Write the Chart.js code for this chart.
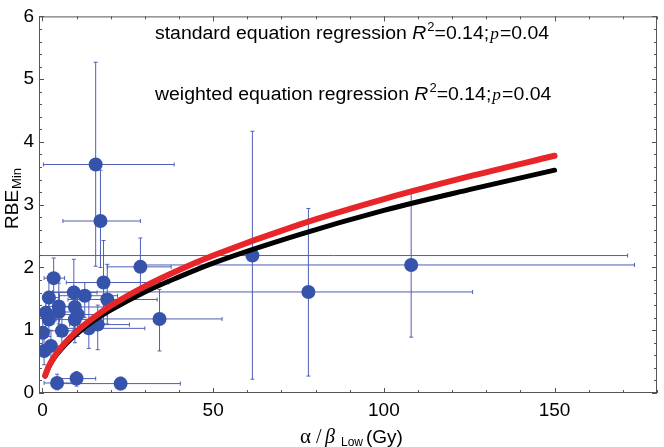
<!DOCTYPE html>
<html>
<head>
<meta charset="utf-8">
<script src="https://cdn.jsdelivr.net/npm/chart.js@4.4.0/dist/chart.umd.min.js"></script>
<style>
  html, body { margin: 0; padding: 0; background: #fff; }
</style>
</head>
<body>
<canvas id="chart" width="664" height="447"></canvas>
<script>
// measured points: alpha/beta (Gy) vs RBE_min, with error bar ends
const ptX    = [15.6, 17.0, 28.7, 61.5, 108, 77.9, 34.3, 4.3, 10.0, 22.9, 3.3, 17.9, 9.2, 12.4, 1.9, 19.0, 4.8, 9.5, 1.0, 4.8, 10.3, 1.9, 9.5, 0.1, 5.7, 13.6, 16.2, 2.5, 0.5];
const ptY    = [3.64, 2.74, 2.01, 2.19, 2.04, 1.61, 1.18, 0.16, 0.23, 0.15, 1.83, 1.76, 1.60, 1.55, 1.52, 1.49, 1.38, 1.37, 1.28, 1.29, 1.25, 1.17, 1.17, 0.96, 0.99, 1.03, 1.09, 0.75, 0.67];
const ptXLow = [0.3, 6.0, 19.0, -1, 30, 3, 16, 0.5, 4.3, 5.4, 0.5, 7, 3, 5, 0, 7.5, 1, 3, 0, 1, 4, 0, 4, 0, 2, 5, 8, 0, 0];
const ptXHigh= [38.6, 28.7, 37.7, 171.4, 173.4, 126, 52.6, 9, 15.6, 40.4, 6.5, 37, 16, 22, 5, 33.6, 9, 18, 4, 10, 19, 5, 17, 1.5, 10, 30, 25.5, 6, 2.5];
const ptYLow = [2.02, 2.0, 1.55, 0.22, 0.89, 0.27, 0.67, 0.05, 0.11, 0.05, 1.5, 1.1, 1.0, 1.2, 1.2, 1.1, 1.1, 1.0, 1.0, 0.9, 0.9, 0.9, 0.8, 0.7, 0.7, 0.71, 0.69, 0.5, 0.45];
const ptYHigh= [5.27, 3.55, 2.47, 4.17, 3.19, 2.94, 1.65, 0.3, 0.34, 0.25, 2.15, 2.43, 2.13, 1.76, 1.85, 2.05, 1.75, 1.7, 1.55, 1.6, 1.55, 1.45, 1.5, 1.2, 1.3, 1.5, 1.4, 1.0, 0.9];

// regression curves
const curveX     = [0.8, 1, 2, 4, 7, 10, 15, 20, 30, 40, 50, 75, 100, 125, 150];
const standardY  = [0.27, 0.30, 0.43, 0.60, 0.79, 0.94, 1.15, 1.32, 1.61, 1.85, 2.07, 2.52, 2.91, 3.24, 3.55];
const weightedY  = [0.28, 0.31, 0.44, 0.62, 0.82, 0.98, 1.20, 1.39, 1.70, 1.96, 2.19, 2.68, 3.09, 3.45, 3.78];

const xTicks = [0, 50, 100, 150];
const yTicks = [0, 1, 2, 3, 4, 5, 6];

const noteLines = [
    ["standard equation regression ", "0.14", "0.04"],
    ["weighted equation regression ", "0.14", "0.04"],
];

const pointColor = "#3553ab";
const barColor = "#4f5fb6";

function toXY(xs, ys) {
    return xs.map((v, i) => ({ x: v, y: ys[i] }));
}

// thin error bars with small caps, under everything else
const errorBars = {
    id: "errorBars",
    beforeDatasetsDraw(chart) {
        const { ctx, chartArea: a, scales } = chart;
        const sx = scales.x, sy = scales.y;
        ctx.save();
        ctx.beginPath();
        ctx.rect(a.left, a.top, a.right - a.left, a.bottom - a.top);
        ctx.clip();
        ctx.strokeStyle = barColor;
        ctx.lineWidth = 1;
        const cap = 2;
        for (let i = 0; i < ptX.length; i++) {
            const px = sx.getPixelForValue(ptX[i]);
            const py = sy.getPixelForValue(ptY[i]);
            const x0 = sx.getPixelForValue(ptXLow[i]);
            const x1 = sx.getPixelForValue(ptXHigh[i]);
            const y0 = sy.getPixelForValue(ptYLow[i]);
            const y1 = sy.getPixelForValue(ptYHigh[i]);
            ctx.beginPath();
            ctx.moveTo(x0, py); ctx.lineTo(x1, py);
            ctx.moveTo(x0, py - cap); ctx.lineTo(x0, py + cap);
            ctx.moveTo(x1, py - cap); ctx.lineTo(x1, py + cap);
            ctx.moveTo(px, y0); ctx.lineTo(px, y1);
            ctx.moveTo(px - cap, y0); ctx.lineTo(px + cap, y0);
            ctx.moveTo(px - cap, y1); ctx.lineTo(px + cap, y1);
            ctx.stroke();
        }
        ctx.restore();
    },
};

// draws text pieces one after another, stretched sideways by k
function drawParts(ctx, x, y, k, parts) {
    ctx.save();
    ctx.translate(x, y);
    ctx.scale(k, 1);
    let cx = 0;
    parts.forEach((p) => {
        ctx.font = p.font;
        if (p.at !== undefined) cx = p.at / k;
        ctx.fillText(p.text, cx, p.dy || 0);
        cx += ctx.measureText(p.text).width + (p.gap || 0);
    });
    ctx.restore();
}

// frame, inward ticks, annotation and axis titles
const decorations = {
    id: "decorations",
    afterDraw(chart) {
        const { ctx, chartArea: a, scales } = chart;
        const sx = scales.x, sy = scales.y;
        ctx.save();
        ctx.strokeStyle = "#555";
        ctx.lineWidth = 1;
        ctx.strokeRect(a.left + 0.5, a.top + 0.5, a.right - a.left - 1, a.bottom - a.top - 1);

        ctx.beginPath();
        for (let v = 0; v <= 180; v += 10) {
            const px = Math.round(sx.getPixelForValue(v)) + 0.5;
            const len = v % 50 === 0 ? 5 : 3;
            ctx.moveTo(px, a.bottom); ctx.lineTo(px, a.bottom - len);
            ctx.moveTo(px, a.top); ctx.lineTo(px, a.top + len);
        }
        for (let k = 0; k <= 30; k++) {
            const py = Math.round(sy.getPixelForValue(k / 5)) + 0.5;
            const len = k % 5 === 0 ? 5 : 3;
            ctx.moveTo(a.left, py); ctx.lineTo(a.left + len, py);
            ctx.moveTo(a.right, py); ctx.lineTo(a.right - len, py);
        }
        ctx.stroke();

        ctx.fillStyle = "#000";
        ctx.textBaseline = "alphabetic";
        ctx.textAlign = "left";
        const baselines = [38.5, 99.5];
        noteLines.forEach((ln, i) => {
            drawParts(ctx, 155, baselines[i], 1.08, [
                { text: ln[0], font: "18px Arial" },
                { text: "R", font: "italic 18px Arial", gap: 1 },
                { text: "2", font: "12px Arial", dy: -8 },
                { text: "=" + ln[1] + ";", font: "18px Arial", gap: 1 },
                { text: "p", font: "italic 16px 'Liberation Serif'", gap: 1 },
                { text: "=" + ln[2], font: "18px Arial" },
            ]);
        });

        // x title
        drawParts(ctx, 0, 443, 1.0, [
            { text: "α", font: "21px 'Liberation Serif'", at: 300 },
            { text: "/", font: "20px 'Liberation Serif'", at: 316 },
            { text: "β", font: "italic 20px 'Liberation Serif'", at: 325 },
            { text: "Low", font: "12px Arial", dy: 3, at: 341 },
            { text: "(Gy)", font: "19px Arial", at: 366 },
        ]);

        // y title, rotated
        ctx.translate(17.5, 229);
        ctx.rotate(-Math.PI / 2);
        drawParts(ctx, 0, 0, 1.0, [
            { text: "RBE", font: "19px Arial", gap: 1 },
            { text: "Min", font: "13px Arial", dy: 3 },
        ]);
        ctx.restore();
    },
};

new Chart(document.getElementById("chart"), {
    type: "scatter",
    data: {
        datasets: [
            {
                label: "weighted",
                type: "line",
                data: toXY(curveX, weightedY),
                borderColor: "#e8262a",
                borderWidth: 6,
                pointRadius: 0,
                cubicInterpolationMode: "monotone",
                borderCapStyle: "round",
            },
            {
                label: "standard",
                type: "line",
                data: toXY(curveX, standardY),
                borderColor: "#000000",
                borderWidth: 5,
                pointRadius: 0,
                cubicInterpolationMode: "monotone",
                borderCapStyle: "round",
            },
            {
                label: "points",
                data: toXY(ptX, ptY),
                pointRadius: 7,
                pointBackgroundColor: pointColor,
                pointBorderColor: pointColor,
                pointBorderWidth: 0,
            },
        ],
    },
    options: {
        responsive: false,
        animation: false,
        layout: { padding: { top: 6, right: 3, left: 0, bottom: 0 } },
        plugins: { legend: { display: false }, tooltip: { enabled: false } },
        scales: {
            x: {
                type: "linear",
                min: -1,
                max: 180,
                afterBuildTicks: (s) => { s.ticks = xTicks.map((v) => ({ value: v })); },
                afterFit: (s) => { s.height = 54; },
                grid: { display: false, drawTicks: false },
                border: { display: false },
                ticks: { color: "#000", font: { family: "Arial", size: 19 }, padding: 6, maxRotation: 0 },
            },
            y: {
                type: "linear",
                min: 0,
                max: 6,
                afterBuildTicks: (s) => { s.ticks = yTicks.map((v) => ({ value: v })); },
                afterFit: (s) => { s.width = 39; },
                grid: { display: false, drawTicks: false },
                border: { display: false },
                ticks: { color: "#000", font: { family: "Arial", size: 19 }, padding: 5 },
            },
        },
    },
    plugins: [errorBars, decorations],
});
</script>
</body>
</html>
